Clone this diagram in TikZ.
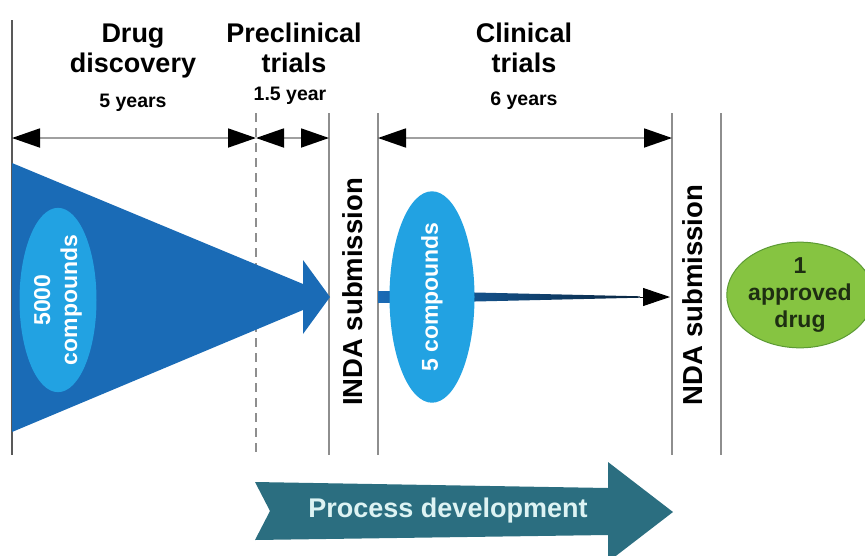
\documentclass[tikz,border=0pt]{standalone}
\usepackage{fontspec}
\setmainfont{Liberation Sans}
\usetikzlibrary{arrows.meta,shapes.geometric}

\definecolor{funnel}{HTML}{1A6BB6}
\definecolor{pill}{HTML}{22A2E2}
\definecolor{procteal}{HTML}{2B6E80}
\definecolor{proctext}{HTML}{DDF3F3}
\definecolor{leaf}{HTML}{86C441}
\definecolor{leafline}{HTML}{5C9A34}
\definecolor{leaftext}{HTML}{1E2E12}
\definecolor{gate}{HTML}{8E8E8E}
\definecolor{spanline}{HTML}{A0A0A0}

\begin{document}
\begin{tikzpicture}[x=1pt,y=-1pt,
  phase/.style={font=\bfseries\fontsize{27}{30}\selectfont, align=center, anchor=north, inner sep=0pt},
  duration/.style={font=\bfseries\fontsize{19.5}{22}\selectfont, anchor=base, inner sep=0pt},
  gateline/.style={draw=gate, line width=1.3pt},
  spanarrow/.style={draw=spanline, line width=1.8pt,
    {Triangle[length=28pt,width=19pt,color=black]}-{Triangle[length=28pt,width=19pt,color=black]}},
  stage/.style={font=\bfseries\fontsize{27.5}{30}\selectfont, rotate=90, inner sep=0pt},
  pool/.style={ellipse, fill=pill, text=white, inner sep=0pt, rotate=90, align=center,
    font=\bfseries\fontsize{23}{27}\selectfont}
]
\useasboundingbox (0,0) rectangle (865,555);

% milestone lines
\coordinate (g0t) at (12,20);   \coordinate (g0b) at (12,455);
\coordinate (g1t) at (256,113); \coordinate (g1b) at (256,455);
\coordinate (g2t) at (329,113); \coordinate (g2b) at (329,455);
\coordinate (g3t) at (378,113); \coordinate (g3b) at (378,455);
\coordinate (g4t) at (672,113); \coordinate (g4b) at (672,455);
\coordinate (g5t) at (721,113); \coordinate (g5b) at (721,455);

\draw[gateline, draw=gray!70!black] (g0t) -- (g0b);
\draw[gateline, dash pattern=on 9pt off 6pt] (g1t) -- (g1b);
\draw[gateline] (g2t) -- (g2b);
\draw[gateline] (g3t) -- (g3b);
\draw[gateline] (g4t) -- (g4b);
\draw[gateline] (g5t) -- (g5b);

% phase headings
\node[phase] (hdisc) at (133,24) {Drug\\discovery};
\node[phase] (hpre)  at (294,23) {Preclinical\\trials};
\node[phase] (hclin) at (524,23) {Clinical\\trials};
\node[duration] (ddisc) at (133,107) {5 years};
\node[duration] (dpre)  at (290,100) {1.5 year};
\node[duration] (dclin) at (524,105) {6 years};

% duration spans
\coordinate (s0) at (12,138);
\coordinate (s1) at (256,138);
\coordinate (s2) at (329,138);
\coordinate (s3) at (378,138);
\coordinate (s4) at (672,138);
\draw[spanarrow] (s0) -- (s1);
\draw[spanarrow] (s1) -- (s2);
\draw[spanarrow] (s3) -- (s4);

% discovery funnel
\fill[funnel] (12,163) -- (303,284) -- (303,260) -- (330,297) -- (303,334)
  -- (303,310) -- (12,432) -- cycle;
\node[pool, minimum width=183pt, minimum height=77pt] (p5000) at (58,300) {5000\\compounds};

% clinical stream tapering into the arrow
\coordinate (tailend) at (640,297);
\coordinate (ndatip) at (670,297);
\shade[left color=funnel, right color=funnel!35!black]
  (378,291) -- (475,292.5) -- (640,296.3) -- (640,297.7) -- (475,301.5) -- (378,303) -- cycle;
\draw[black, line width=1pt, -{Triangle[length=27pt,width=18pt]}] (tailend) -- (ndatip);
\node[pool, minimum width=172pt, minimum height=85pt] (p5) at (432,297) {5 compounds};

% submissions
\node[stage] (inda) at (353,292) {INDA submission};
\node[stage] (nda)  at (693,295) {NDA submission};

% approved drug
\node[ellipse, fill=leaf, draw=leafline, line width=1pt, text=leaftext,
  minimum width=128pt, minimum height=97pt, inner sep=0pt, align=center,
  font=\bfseries\fontsize{23}{27}\selectfont] (drug) at (800,295) {1\\approved\\drug};

% process development band
\fill[procteal] (255,482) -- (608,488) -- (608,462) -- (673,512) -- (608,562)
  -- (608,535) -- (255,540) -- (270,511) -- cycle;
\node[font=\bfseries\fontsize{27}{30}\selectfont, text=proctext, anchor=base, inner sep=0pt]
  (proc) at (448,517) {Process development};
\end{tikzpicture}
\end{document}
